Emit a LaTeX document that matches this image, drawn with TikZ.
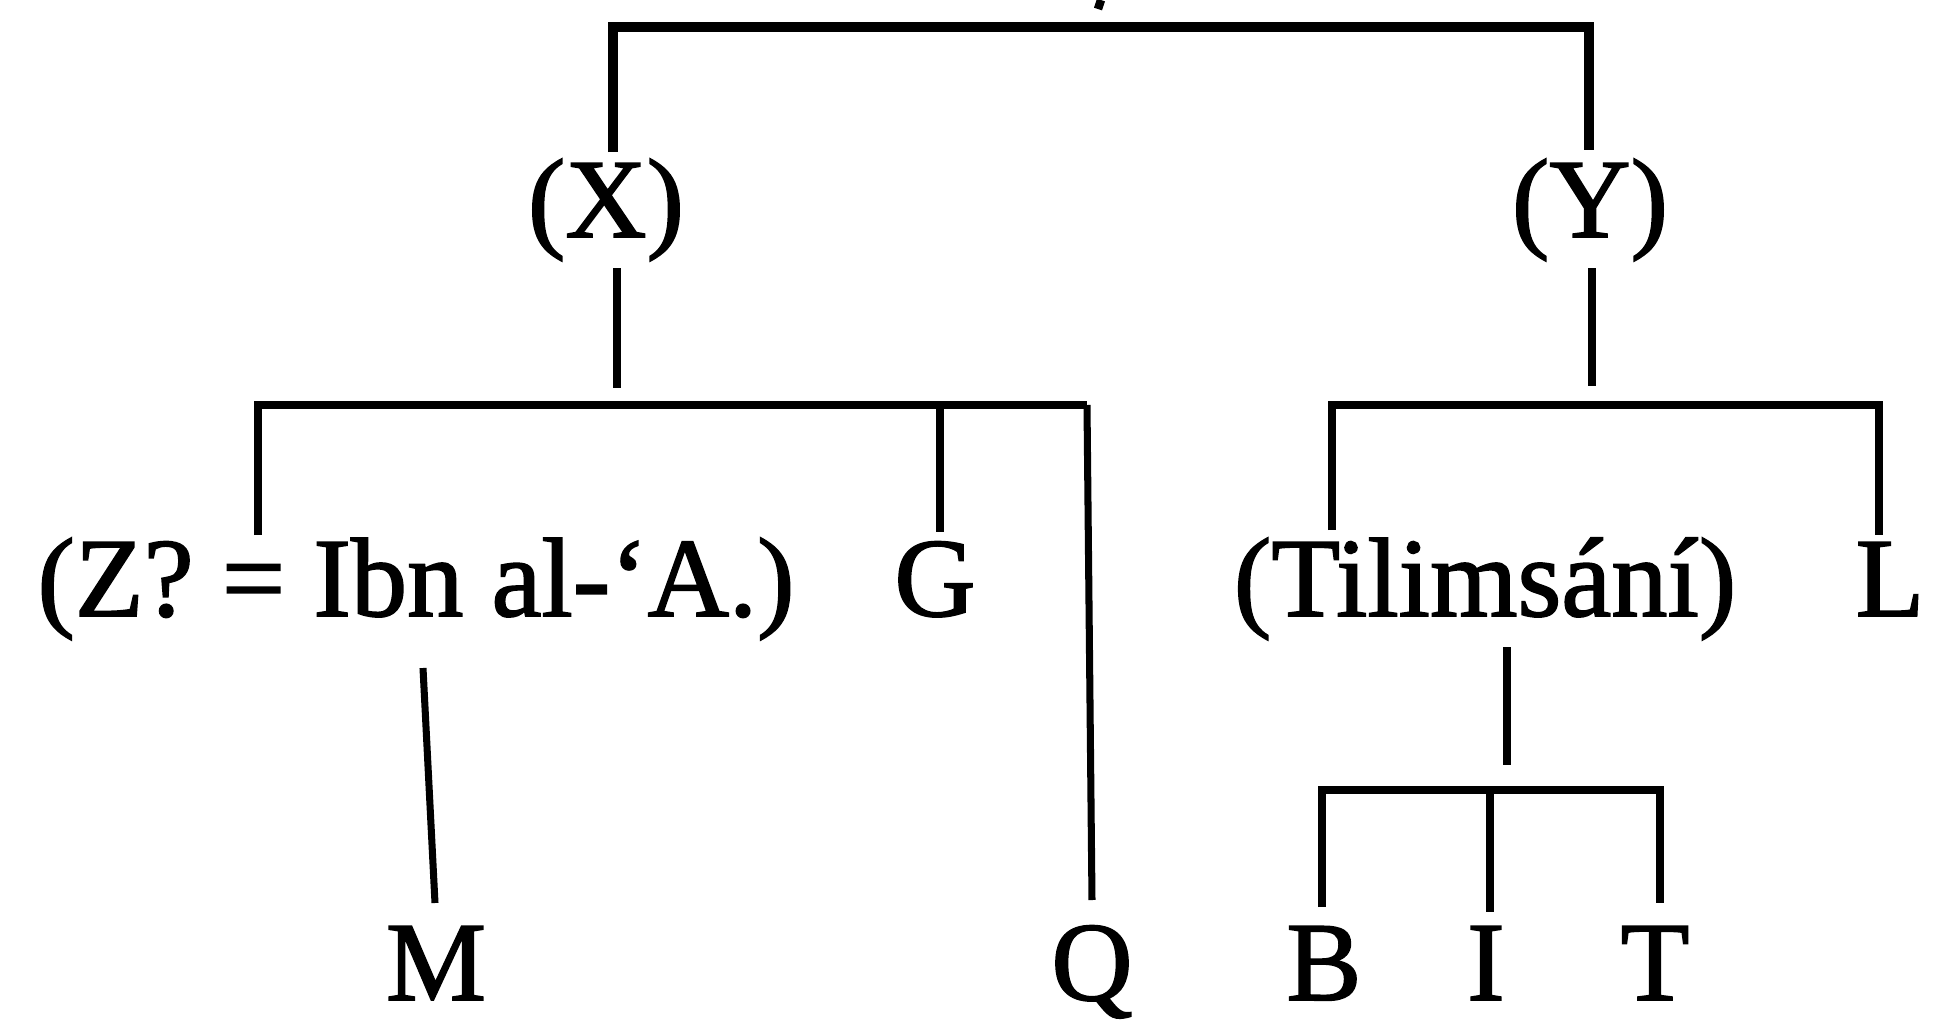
\documentclass[tikz,border=0pt]{standalone}
\usepackage{fontspec}
\setmainfont{Liberation Serif}
\newfontfamily\labfont{Liberation Serif}[FakeBold=1.5]
\begin{document}
\begin{tikzpicture}[x=0.01cm,y=-0.01cm,
  lab/.style={inner sep=0pt, anchor=base, font=\labfont\fontsize{32}{38}\selectfont},
  br/.style={line width=2.4pt, line cap=butt, line join=miter},
  topbr/.style={line width=3pt, line cap=butt, line join=miter},
  thin/.style={line width=2pt, line cap=butt}]
\useasboundingbox (0,0) rectangle (1935,1033);
% labels
\node[lab] (X) at (606,237) {(X)};
\node[lab] (Y) at (1590,237) {(Y)};
\node[lab] (Z) at (416,616) {(Z? = Ibn al-‘A.)};
\node[lab] (G) at (935,616) {G};
\node[lab] (Ti) at (1485,616) {(Tilimsání)};
\node[lab] (L) at (1890,616) {L};
\node[lab] (M) at (436,1000) {M};
\node[lab] (Q) at (1092,1000) {Q};
\node[lab] (B) at (1324,1000) {B};
\node[lab] (I) at (1486,1000) {I};
\node[lab] (T) at (1655,1000) {T};
% coordinates
\coordinate (r1) at (1101,0);
\coordinate (r2) at (1098,9);
\coordinate (xup) at (613,152);
\coordinate (xc) at (613,27);
\coordinate (yc) at (1589,27);
\coordinate (yup) at (1589,150);
\coordinate (xd1) at (617,268);
\coordinate (xd2) at (617,388);
\coordinate (yd1) at (1592,268);
\coordinate (yd2) at (1592,386);
\coordinate (zt) at (258,535);
\coordinate (zc) at (258,405);
\coordinate (qc) at (1087,405);
\coordinate (qb) at (1092,900);
\coordinate (gc) at (940,405);
\coordinate (gt) at (940,532);
\coordinate (tc) at (1332,405);
\coordinate (tt) at (1332,530);
\coordinate (lc) at (1879,405);
\coordinate (lt) at (1879,535);
\coordinate (ma) at (423,668);
\coordinate (mb) at (435,903);
\coordinate (s1) at (1507,647);
\coordinate (s2) at (1507,765);
\coordinate (bc) at (1322,790);
\coordinate (bb) at (1322,907);
\coordinate (ic) at (1490,790);
\coordinate (ib) at (1490,912);
\coordinate (tcc) at (1660,790);
\coordinate (tb) at (1660,903);
% connectors
\draw[br] (r1) -- (r2);
\draw[topbr] (xup) -- (xc) -- (yc) -- (yup);
\draw[br] (xd1) -- (xd2);
\draw[br] (yd1) -- (yd2);
\draw[br] (zt) -- (zc) -- (qc);
\draw[thin] (qc) -- (qb);
\draw[br] (gc) -- (gt);
\draw[br] (tt) -- (tc) -- (lc) -- (lt);
\draw[thin] (ma) -- (mb);
\draw[br] (s1) -- (s2);
\draw[br] (bb) -- (bc) -- (tcc) -- (tb);
\draw[br] (ic) -- (ib);
\end{tikzpicture}
\end{document}
